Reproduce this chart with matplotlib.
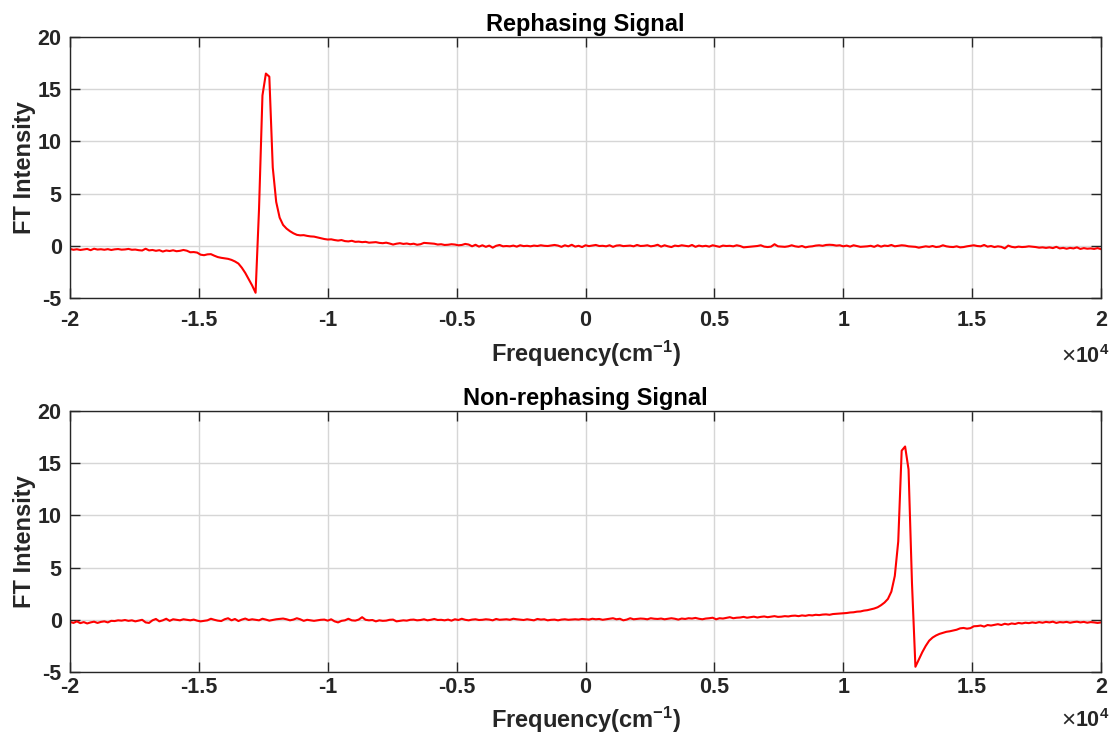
import numpy as np
import matplotlib
matplotlib.use("Agg")
import matplotlib.pyplot as plt

plt.rcParams['font.family'] = ['Liberation Sans', 'DejaVu Sans']
plt.rcParams['mathtext.fontset'] = 'custom'
plt.rcParams['mathtext.rm'] = 'Liberation Sans:bold'
plt.rcParams['mathtext.bf'] = 'Liberation Sans:bold'
plt.rcParams['mathtext.default'] = 'bf'

# Frequency grid (cm^-1): 301 samples from -20000 to 20000
freq = np.linspace(-20000, 20000, 301)

rephasing = [
    -0.30, -0.38, -0.33, -0.40, -0.35, -0.30, -0.42, -0.28, -0.36, -0.33,
    -0.38, -0.32, -0.40, -0.34, -0.31, -0.37, -0.35, -0.30, -0.38, -0.36,
    -0.42, -0.45, -0.28, -0.44, -0.40, -0.48, -0.42, -0.55, -0.45, -0.50,
    -0.43, -0.52, -0.48, -0.40, -0.47, -0.62, -0.60, -0.65, -0.85, -0.90,
    -0.82, -0.80, -0.95, -1.08, -1.15, -1.20, -1.25, -1.35, -1.50, -1.70,
    -2.10, -2.60, -3.20, -3.80, -4.50, 3.50, 14.40, 16.50, 16.20, 7.50,
    4.20, 2.70, 2.00, 1.65, 1.40, 1.20, 1.05, 1.00, 1.02, 0.95,
    0.90, 0.88, 0.80, 0.72, 0.65, 0.60, 0.62, 0.55, 0.50, 0.55,
    0.45, 0.42, 0.48, 0.38, 0.40, 0.35, 0.38, 0.30, 0.32, 0.35,
    0.28, 0.25, 0.30, 0.22, 0.12, 0.20, 0.25, 0.18, 0.22, 0.15,
    0.20, 0.10, 0.15, 0.28, 0.25, 0.22, 0.20, 0.12, 0.15, 0.08,
    0.10, 0.15, 0.12, 0.05, 0.08, 0.18, 0.12, -0.05, 0.10, -0.08,
    0.05, -0.10, 0.02, -0.18, 0.00, 0.08, -0.05, -0.02, -0.05, 0.02,
    -0.08, 0.05, -0.03, 0.00, -0.05, 0.02, -0.02, 0.05, 0.00, -0.02,
    0.03, 0.08, 0.02, -0.10, 0.05, -0.05, 0.10, -0.08, 0.00, -0.12,
    0.05, -0.03, 0.02, 0.08, -0.02, 0.00, -0.05, 0.05, -0.10, 0.02,
    0.05, -0.03, 0.00, 0.02, -0.05, 0.08, -0.02, 0.00, 0.05, -0.05,
    0.00, 0.10, -0.08, 0.05, -0.05, -0.12, 0.02, -0.03, 0.05, 0.00,
    -0.05, 0.08, -0.10, 0.02, -0.05, 0.00, -0.08, 0.05, -0.03, -0.10,
    0.02, -0.02, 0.00, -0.05, 0.05, -0.02, -0.15, -0.12, -0.10, -0.05,
    -0.02, 0.05, -0.08, -0.12, -0.08, 0.15, -0.05, -0.08, -0.10, -0.05,
    0.05, -0.05, -0.10, -0.02, -0.15, -0.08, -0.05, 0.02, 0.05, 0.00,
    0.08, 0.10, 0.08, 0.02, 0.05, -0.05, 0.02, -0.08, 0.05, -0.02,
    -0.10, -0.08, -0.05, 0.00, -0.10, 0.05, -0.08, 0.02, -0.02, 0.08,
    -0.05, 0.00, 0.05, 0.02, -0.05, -0.08, -0.10, -0.18, -0.12, -0.05,
    -0.10, -0.02, -0.12, -0.08, 0.05, -0.05, -0.10, -0.12, -0.05, -0.15,
    -0.12, -0.05, 0.00, 0.05, -0.02, -0.05, 0.08, -0.08, -0.02, -0.12,
    -0.05, -0.10, -0.25, 0.02, -0.10, -0.15, -0.08, -0.12, -0.10, -0.05,
    -0.08, -0.12, -0.18, -0.15, -0.20, -0.15, -0.22, -0.10, -0.25, -0.20,
    -0.28, -0.20, -0.25, -0.15, -0.30, -0.22, -0.28, -0.25, -0.30, -0.22,
    -0.32,
]

nonrephasing = [
    -0.20, -0.30, -0.15, -0.32, -0.22, -0.35, -0.25, -0.18, -0.30, -0.20,
    -0.15, -0.25, -0.10, -0.12, -0.05, -0.08, -0.02, -0.10, -0.05, -0.15,
    -0.08, 0.00, -0.25, -0.30, -0.05, 0.08, -0.15, -0.05, 0.10, -0.10,
    0.05, 0.00, -0.05, 0.05, 0.00, -0.05, 0.02, -0.08, -0.15, -0.10,
    -0.05, 0.10, 0.00, -0.08, -0.12, 0.05, 0.15, -0.05, 0.08, -0.12,
    0.02, 0.12, -0.02, 0.05, 0.00, -0.05, 0.10, 0.02, -0.08, -0.02,
    0.05, 0.08, 0.12, 0.05, -0.05, 0.02, 0.15, 0.05, -0.10, 0.00,
    -0.05, -0.10, -0.05, 0.00, 0.02, -0.08, 0.05, -0.15, -0.25, -0.10,
    -0.05, 0.10, -0.05, -0.08, 0.02, 0.25, 0.00, -0.05, -0.02, -0.15,
    -0.05, -0.10, -0.08, 0.00, 0.02, -0.15, -0.10, -0.05, -0.08, 0.00,
    0.02, -0.05, -0.02, 0.05, -0.05, 0.00, 0.08, -0.02, 0.00, -0.05,
    0.02, -0.08, 0.05, -0.02, 0.10, 0.00, -0.05, 0.02, 0.05, -0.02,
    0.00, 0.05, 0.02, -0.05, 0.08, 0.00, 0.02, 0.05, 0.00, 0.10,
    0.05, 0.02, -0.02, 0.05, 0.00, -0.05, 0.08, 0.02, 0.05, -0.05,
    0.00, 0.02, -0.05, 0.02, 0.05, 0.00, 0.02, 0.05, 0.02, 0.08,
    0.05, 0.02, 0.10, 0.05, 0.08, 0.00, 0.05, 0.10, 0.15, 0.05,
    0.10, -0.05, 0.02, 0.15, 0.05, 0.08, 0.12, 0.10, 0.05, 0.15,
    0.10, 0.08, 0.12, 0.05, 0.10, 0.15, 0.10, 0.02, 0.12, 0.08,
    0.15, 0.12, 0.18, 0.10, 0.05, 0.12, 0.15, 0.20, 0.05, 0.15,
    0.12, 0.18, 0.25, 0.15, 0.20, 0.22, 0.28, 0.20, 0.25, 0.30,
    0.22, 0.28, 0.32, 0.25, 0.30, 0.35, 0.28, 0.30, 0.35, 0.32,
    0.38, 0.40, 0.35, 0.42, 0.38, 0.45, 0.42, 0.48, 0.45, 0.50,
    0.52, 0.48, 0.55, 0.58, 0.60, 0.62, 0.65, 0.70, 0.72, 0.78,
    0.80, 0.88, 0.92, 1.00, 1.08, 1.20, 1.40, 1.65, 2.00, 2.70,
    4.20, 7.50, 16.20, 16.60, 14.40, 3.50, -4.50, -3.80, -3.10, -2.50,
    -2.00, -1.70, -1.50, -1.35, -1.25, -1.15, -1.10, -1.02, -0.95, -0.82,
    -0.78, -0.85, -0.80, -0.62, -0.60, -0.55, -0.65, -0.50, -0.55, -0.48,
    -0.42, -0.50, -0.38, -0.45, -0.35, -0.40, -0.30, -0.35, -0.28, -0.32,
    -0.25, -0.30, -0.22, -0.28, -0.20, -0.25, -0.18, -0.30, -0.22, -0.25,
    -0.20, -0.28, -0.22, -0.18, -0.25, -0.20, -0.28, -0.22, -0.25, -0.30,
    -0.25,
]

titles = ["Rephasing Signal", "Non-rephasing Signal"]
series = [rephasing, nonrephasing]
xticks = [-20000, -15000, -10000, -5000, 0, 5000, 10000, 15000, 20000]
xticklabels = ["-2", "-1.5", "-1", "-0.5", "0", "0.5", "1", "1.5", "2"]
yticks = [-5, 0, 5, 10, 15, 20]
yticklabels = ["-5", "0", "5", "10", "15", "20"]

W, H = 1111, 742
fig = plt.figure(figsize=(W / 100, H / 100), dpi=100)

# (left, right, top, bottom) in px, x tick pad (pt), x-multiplier y (axes coords)
layout = [((70, 1101, 37, 298), 9.0, -0.225),
          ((70, 1101, 411, 672), 3.5, -0.185)]
fs = 15.5
fl = 17
edge = '#262626'
for ((l, r, t, b), xpad, my), ttl, y in zip(layout, titles, series):
    ax = fig.add_axes([l / W, (H - b) / H, (r - l) / W, (b - t) / H])
    ax.plot(freq, y, color='#ff0000', lw=1.5)
    ax.set_xlim(-20000, 20000)
    ax.set_ylim(-5, 20)
    ax.set_xticks(xticks)
    ax.set_xticklabels(xticklabels, fontsize=fs, fontweight='bold', color=edge)
    ax.set_yticks(yticks)
    ax.set_yticklabels(yticklabels, fontsize=fs, fontweight='bold', color=edge)
    ax.grid(True, color='#d6d6d6', lw=1)
    ax.set_axisbelow(True)
    ax.tick_params(direction='in', length=7, width=1, color=edge,
                   top=True, right=True)
    ax.tick_params(axis='x', pad=xpad)
    ax.tick_params(axis='y', pad=6)
    for s in ax.spines.values():
        s.set_color(edge)
        s.set_linewidth(1)
    ax.set_title(ttl, fontsize=fl, fontweight='bold', pad=4, color='black')
    ax.set_xlabel(r"Frequency(cm$^{-1}$)", fontsize=fl, fontweight='bold',
                  labelpad=5, color=edge)
    ax.set_ylabel("FT Intensity", fontsize=fl, fontweight='bold',
                  labelpad=1, color=edge)
    ax.text(0.9615, my, "\u00d7", transform=ax.transAxes,
            ha='left', va='center', fontsize=fs + 2, fontweight='normal', color=edge)
    ax.text(0.9745, my, r"10$^{4}$", transform=ax.transAxes,
            ha='left', va='center', fontsize=fs, fontweight='bold', color=edge)

fig.savefig("out.png", dpi=100)
